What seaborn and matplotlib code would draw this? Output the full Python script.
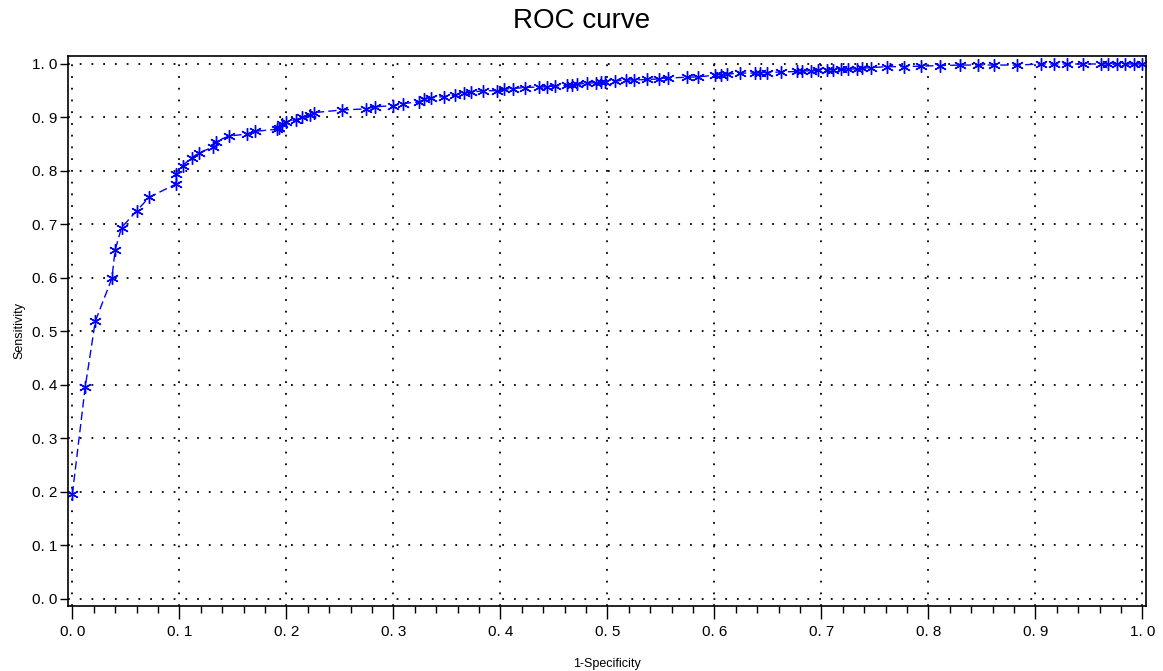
import matplotlib
matplotlib.use("Agg")
import matplotlib.pyplot as plt
import seaborn as sns
import pandas as pd
from matplotlib.ticker import MultipleLocator

fpr = [0.000, 0.012, 0.0215, 0.037, 0.040, 0.046, 0.060, 0.072, 0.0965, 0.0965,
       0.103, 0.112, 0.118, 0.1315, 0.134, 0.146, 0.163, 0.171, 0.191, 0.193,
       0.196, 0.200, 0.209, 0.215, 0.222, 0.226, 0.252, 0.274, 0.283, 0.300,
       0.309, 0.324, 0.329, 0.335, 0.347, 0.358, 0.366, 0.373, 0.384, 0.397,
       0.403, 0.412, 0.423, 0.436, 0.444, 0.451, 0.462, 0.467, 0.472, 0.481,
       0.489, 0.494, 0.498, 0.507, 0.517, 0.525, 0.537, 0.548, 0.557, 0.574,
       0.585, 0.601, 0.606, 0.612, 0.624, 0.638, 0.643, 0.649, 0.662, 0.677,
       0.682, 0.690, 0.697, 0.705, 0.711, 0.718, 0.725, 0.733, 0.738, 0.746,
       0.761, 0.777, 0.793, 0.811, 0.830, 0.846, 0.861, 0.883, 0.905, 0.917,
       0.930, 0.945, 0.961, 0.968, 0.976, 0.984, 0.992, 1.000]
tpr = [0.195, 0.395, 0.519, 0.599, 0.652, 0.694, 0.725, 0.751, 0.775, 0.795,
       0.810, 0.825, 0.833, 0.845, 0.855, 0.865, 0.869, 0.874, 0.878, 0.881,
       0.888, 0.891, 0.896, 0.900, 0.904, 0.909, 0.914, 0.916, 0.920, 0.922,
       0.926, 0.929, 0.934, 0.937, 0.939, 0.942, 0.945, 0.947, 0.950, 0.950,
       0.953, 0.954, 0.956, 0.957, 0.957, 0.959, 0.960, 0.961, 0.962, 0.964,
       0.965, 0.966, 0.967, 0.968, 0.970, 0.970, 0.971, 0.972, 0.974, 0.975,
       0.976, 0.979, 0.980, 0.981, 0.983, 0.983, 0.984, 0.984, 0.985, 0.986,
       0.987, 0.987, 0.988, 0.989, 0.989, 0.990, 0.990, 0.991, 0.992, 0.993,
       0.995, 0.995, 0.996, 0.997, 0.998, 0.998, 0.998, 0.998, 1.000, 1.000,
       1.000, 1.000, 1.000, 1.000, 1.000, 1.000, 1.000, 1.000]

x_ticks = [0.0, 0.1, 0.2, 0.3, 0.4, 0.5, 0.6, 0.7, 0.8, 0.9, 1.0]
y_ticks = [0.0, 0.1, 0.2, 0.3, 0.4, 0.5, 0.6, 0.7, 0.8, 0.9, 1.0]
x_tick_labels = ["0. 0", "0. 1", "0. 2", "0. 3", "0. 4", "0. 5", "0. 6", "0. 7", "0. 8", "0. 9", "1. 0"]
y_tick_labels = x_tick_labels

df = pd.DataFrame({"fpr": fpr, "tpr": tpr})

sns.set_style("white")
plt.rcParams['font.family'] = ['Liberation Sans', 'DejaVu Sans']
plt.rcParams['text.color'] = 'black'
plt.rcParams['axes.labelcolor'] = 'black'
plt.rcParams['xtick.color'] = 'black'
plt.rcParams['ytick.color'] = 'black'

fig = plt.figure(figsize=(11.63, 6.71), dpi=100)
ax = fig.add_axes([0.0585, 0.0975, 0.9265, 0.8195])

sns.lineplot(data=df, x="fpr", y="tpr", ax=ax, estimator=None, sort=False,
             color="#0000ff", linewidth=1.0, linestyle=(0, (6, 3)),
             marker=(6, 2, 0), markersize=9, markeredgewidth=1.0,
             markeredgecolor="#0000ff")

ax.set_xlim(-0.004, 1.003)
ax.set_ylim(-0.013, 1.0155)
ax.set_xticks(x_ticks)
ax.set_xticklabels(x_tick_labels)
ax.set_yticks(y_ticks)
ax.set_yticklabels(y_tick_labels)
ax.xaxis.set_minor_locator(MultipleLocator(0.02))

ax.grid(True, which="major", color="black", linestyle=(0, (1, 5.5)), linewidth=1.3)
for s in ax.spines.values():
    s.set_visible(True)
    s.set_color("black")
    s.set_linewidth(1.2)

ax.tick_params(axis="x", which="major", direction="out", length=9, width=1.0,
               color="black", labelsize=11, pad=5, bottom=True)
ax.tick_params(axis="x", which="minor", direction="out", length=5, width=1.0,
               color="black", bottom=True)
ax.tick_params(axis="y", which="major", direction="out", length=6, width=1.0,
               color="black", labelsize=11, pad=2, left=True)

ax.set_xlabel("1-Specificity", fontsize=9, labelpad=14)
ax.yaxis.set_label_coords(-0.04, 0.5)
ax.set_ylabel("Sensitivity", fontsize=9)
fig.suptitle("ROC curve", fontsize=20, y=0.988, color="black")

fig.savefig("out.png", dpi=100)
